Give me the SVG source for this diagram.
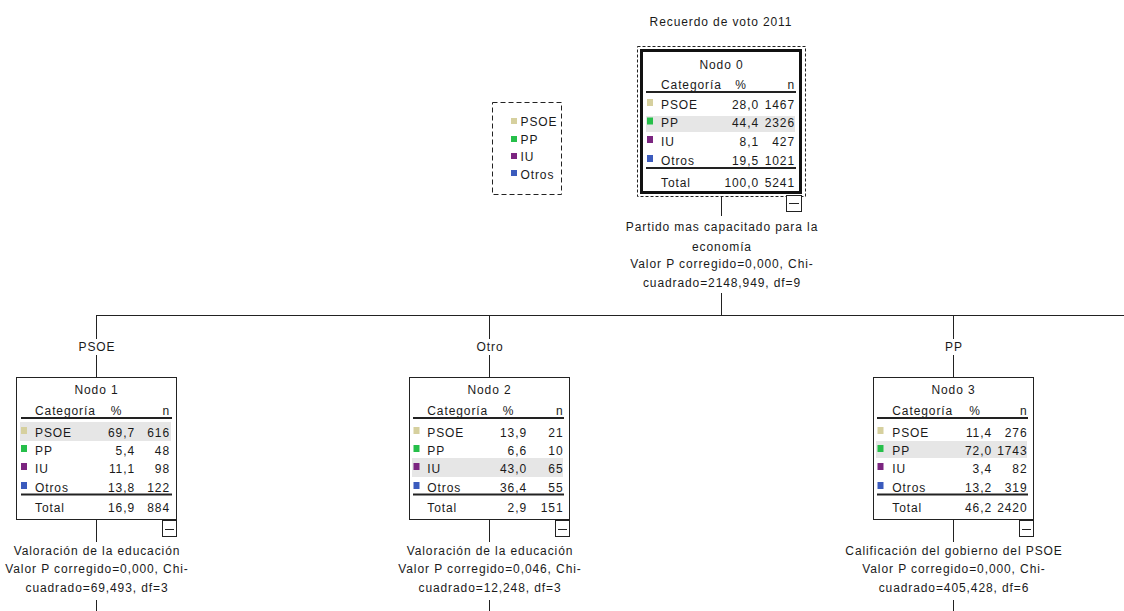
<svg xmlns="http://www.w3.org/2000/svg" width="1124" height="611" viewBox="0 0 1124 611">
<style>
.t{font-family:"Liberation Sans",Arial,sans-serif;font-size:12px;letter-spacing:0.9px;fill:#1a1a1a}
.m{text-anchor:middle}
.e{text-anchor:end}
.ln{stroke:#222;stroke-width:1;fill:none}
.rule{stroke:#222;stroke-width:2;fill:none}
.box{fill:#fff;stroke:#222;stroke-width:1}
.band{fill:#e6e6e6}
.c1{fill:#d6d09e}.c2{fill:#26bf4a}.c3{fill:#7b2580}.c4{fill:#3b5bbd}
.dash{fill:none;stroke:#222;stroke-width:1;stroke-dasharray:5 3}
</style>
<rect width="1124" height="611" fill="#fff"/>

<g id="connectors">
<line class="ln" x1="721.5" y1="196" x2="721.5" y2="216"/>
<line class="ln" x1="721.5" y1="293" x2="721.5" y2="316"/>
<line class="ln" x1="96" y1="315.5" x2="1124" y2="315.5"/>
<line class="ln" x1="96.5" y1="315" x2="96.5" y2="339"/>
<line class="ln" x1="96.5" y1="355" x2="96.5" y2="377"/>
<line class="ln" x1="489.5" y1="315" x2="489.5" y2="339"/>
<line class="ln" x1="489.5" y1="355" x2="489.5" y2="377"/>
<line class="ln" x1="953.5" y1="315" x2="953.5" y2="339"/>
<line class="ln" x1="953.5" y1="355" x2="953.5" y2="377"/>
<line class="ln" x1="96.5" y1="520" x2="96.5" y2="542"/>
<line class="ln" x1="96.5" y1="600" x2="96.5" y2="611"/>
<line class="ln" x1="489.5" y1="520" x2="489.5" y2="542"/>
<line class="ln" x1="489.5" y1="600" x2="489.5" y2="611"/>
<line class="ln" x1="953.5" y1="520" x2="953.5" y2="542"/>
<line class="ln" x1="953.5" y1="600" x2="953.5" y2="611"/>
<text class="t m" x="722" y="230.5">Partido mas capacitado para la</text>
<text class="t m" x="722" y="250.5">economía</text>
<text class="t m" x="722" y="267.5">Valor P corregido=0,000, Chi-</text>
<text class="t m" x="722" y="286.5">cuadrado=2148,949, df=9</text>
<text class="t m" x="97" y="351">PSOE</text>
<text class="t m" x="490" y="351">Otro</text>
<text class="t m" x="954" y="351">PP</text>
<text class="t m" x="97" y="554.5">Valoración de la educación</text>
<text class="t m" x="97" y="572.5">Valor P corregido=0,000, Chi-</text>
<text class="t m" x="97" y="591.5">cuadrado=69,493, df=3</text>
<text class="t m" x="490" y="554.5">Valoración de la educación</text>
<text class="t m" x="490" y="572.5">Valor P corregido=0,046, Chi-</text>
<text class="t m" x="490" y="591.5">cuadrado=12,248, df=3</text>
<text class="t m" x="954" y="554.5">Calificación del gobierno del PSOE</text>
<text class="t m" x="954" y="572.5">Valor P corregido=0,000, Chi-</text>
<text class="t m" x="954" y="591.5">cuadrado=405,428, df=6</text>
</g>

<g id="title">
<text class="t m" x="721" y="26">Recuerdo de voto 2011</text>
</g>

<g id="legend">
<rect class="dash" x="492.5" y="102.5" width="69" height="92"/>
<rect class="c1" x="511" y="118" width="6" height="6"/>
<text class="t" x="520.5" y="125.5">PSOE</text>
<rect class="c2" x="511" y="136" width="6" height="6"/>
<text class="t" x="520.5" y="143.5">PP</text>
<rect class="c3" x="511" y="153" width="6" height="6"/>
<text class="t" x="520.5" y="161">IU</text>
<rect class="c4" x="511" y="170" width="6" height="6"/>
<text class="t" x="520.5" y="178.5">Otros</text>
</g>

<g id="node0">
<rect fill="none" stroke="#222" stroke-width="1" stroke-dasharray="3 2" x="637.5" y="46.5" width="168" height="150"/>
<rect fill="#fff" stroke="#111" stroke-width="3" x="641.5" y="50.5" width="159" height="142"/>
<rect class="band" x="646" y="116" width="149" height="16"/>
<text class="t m" x="721.5" y="68.5">Nodo 0</text>
<text class="t" x="661" y="88.5">Categoría</text>
<text class="t m" x="741" y="88.5">%</text>
<text class="t e" x="795" y="88.5">n</text>
<line class="rule" x1="646" y1="92" x2="796" y2="92"/>
<rect class="c1" x="647" y="99" width="6" height="7"/>
<text class="t" x="661" y="108.5">PSOE</text>
<text class="t e" x="759" y="108.5">28,0</text>
<text class="t e" x="795" y="108.5">1467</text>
<rect class="c2" x="647" y="117.5" width="6" height="7"/>
<text class="t" x="661" y="127">PP</text>
<text class="t e" x="759" y="127">44,4</text>
<text class="t e" x="795" y="127">2326</text>
<rect class="c3" x="647" y="136" width="6" height="7"/>
<text class="t" x="661" y="145.5">IU</text>
<text class="t e" x="759" y="145.5">8,1</text>
<text class="t e" x="795" y="145.5">427</text>
<rect class="c4" x="647" y="155" width="6" height="7"/>
<text class="t" x="661" y="164.5">Otros</text>
<text class="t e" x="759" y="164.5">19,5</text>
<text class="t e" x="795" y="164.5">1021</text>
<line class="rule" x1="646" y1="168" x2="796" y2="168"/>
<text class="t" x="661" y="187">Total</text>
<text class="t e" x="759" y="187">100,0</text>
<text class="t e" x="795" y="187">5241</text>
<rect class="box" x="786.5" y="195.5" width="15" height="16"/>
<line class="ln" x1="789" y1="203.5" x2="799" y2="203.5"/>
</g>

<g id="node1">
<rect class="box" x="16.5" y="377.5" width="160" height="142"/>
<rect class="band" x="20" y="422" width="151" height="19"/>
<text class="t m" x="96.5" y="393.5">Nodo 1</text>
<text class="t" x="35" y="414.5">Categoría</text>
<text class="t m" x="116.5" y="414.5">%</text>
<text class="t e" x="170" y="414.5">n</text>
<line class="rule" x1="21" y1="418" x2="172" y2="418"/>
<rect class="c1" x="21" y="427" width="6" height="7"/>
<text class="t" x="35" y="436.5">PSOE</text>
<text class="t e" x="135" y="436.5">69,7</text>
<text class="t e" x="170" y="436.5">616</text>
<rect class="c2" x="21" y="445" width="6" height="7"/>
<text class="t" x="35" y="454.5">PP</text>
<text class="t e" x="135" y="454.5">5,4</text>
<text class="t e" x="170" y="454.5">48</text>
<rect class="c3" x="21" y="463" width="6" height="7"/>
<text class="t" x="35" y="472.5">IU</text>
<text class="t e" x="135" y="472.5">11,1</text>
<text class="t e" x="170" y="472.5">98</text>
<rect class="c4" x="21" y="482" width="6" height="7"/>
<text class="t" x="35" y="491.5">Otros</text>
<text class="t e" x="135" y="491.5">13,8</text>
<text class="t e" x="170" y="491.5">122</text>
<line class="rule" x1="21" y1="494.5" x2="172" y2="494.5"/>
<text class="t" x="35" y="511.5">Total</text>
<text class="t e" x="135" y="511.5">16,9</text>
<text class="t e" x="170" y="511.5">884</text>
<rect class="box" x="162.5" y="520.5" width="14" height="16"/>
<line class="ln" x1="165" y1="529.5" x2="174" y2="529.5"/>
</g>

<g id="node2">
<rect class="box" x="409.5" y="377.5" width="160" height="142"/>
<rect class="band" x="412" y="458" width="151" height="19"/>
<text class="t m" x="489.5" y="393.5">Nodo 2</text>
<text class="t" x="427.3" y="414.5">Categoría</text>
<text class="t m" x="508.5" y="414.5">%</text>
<text class="t e" x="563.5" y="414.5">n</text>
<line class="rule" x1="413" y1="418" x2="564" y2="418"/>
<rect class="c1" x="413.5" y="427" width="6" height="7"/>
<text class="t" x="427.3" y="436.5">PSOE</text>
<text class="t e" x="527" y="436.5">13,9</text>
<text class="t e" x="563.5" y="436.5">21</text>
<rect class="c2" x="413.5" y="445" width="6" height="7"/>
<text class="t" x="427.3" y="454.5">PP</text>
<text class="t e" x="527" y="454.5">6,6</text>
<text class="t e" x="563.5" y="454.5">10</text>
<rect class="c3" x="413.5" y="463" width="6" height="7"/>
<text class="t" x="427.3" y="472.5">IU</text>
<text class="t e" x="527" y="472.5">43,0</text>
<text class="t e" x="563.5" y="472.5">65</text>
<rect class="c4" x="413.5" y="482" width="6" height="7"/>
<text class="t" x="427.3" y="491.5">Otros</text>
<text class="t e" x="527" y="491.5">36,4</text>
<text class="t e" x="563.5" y="491.5">55</text>
<line class="rule" x1="413" y1="494.5" x2="564" y2="494.5"/>
<text class="t" x="427.3" y="511.5">Total</text>
<text class="t e" x="527" y="511.5">2,9</text>
<text class="t e" x="563.5" y="511.5">151</text>
<rect class="box" x="555.5" y="520.5" width="14" height="16"/>
<line class="ln" x1="558" y1="529.5" x2="567" y2="529.5"/>
</g>

<g id="node3">
<rect class="box" x="873.5" y="377.5" width="160" height="142"/>
<rect class="band" x="876" y="441" width="151" height="17"/>
<text class="t m" x="953.5" y="393.5">Nodo 3</text>
<text class="t" x="892.3" y="414.5">Categoría</text>
<text class="t m" x="975" y="414.5">%</text>
<text class="t e" x="1027.5" y="414.5">n</text>
<line class="rule" x1="877" y1="418" x2="1028" y2="418"/>
<rect class="c1" x="877.5" y="427" width="6" height="7"/>
<text class="t" x="892.3" y="436.5">PSOE</text>
<text class="t e" x="992" y="436.5">11,4</text>
<text class="t e" x="1027.5" y="436.5">276</text>
<rect class="c2" x="877.5" y="445" width="6" height="7"/>
<text class="t" x="892.3" y="454.5">PP</text>
<text class="t e" x="992" y="454.5">72,0</text>
<text class="t e" x="1027.5" y="454.5">1743</text>
<rect class="c3" x="877.5" y="463" width="6" height="7"/>
<text class="t" x="892.3" y="472.5">IU</text>
<text class="t e" x="992" y="472.5">3,4</text>
<text class="t e" x="1027.5" y="472.5">82</text>
<rect class="c4" x="877.5" y="482" width="6" height="7"/>
<text class="t" x="892.3" y="491.5">Otros</text>
<text class="t e" x="992" y="491.5">13,2</text>
<text class="t e" x="1027.5" y="491.5">319</text>
<line class="rule" x1="877" y1="494.5" x2="1028" y2="494.5"/>
<text class="t" x="892.3" y="511.5">Total</text>
<text class="t e" x="992" y="511.5">46,2</text>
<text class="t e" x="1027.5" y="511.5">2420</text>
<rect class="box" x="1019.5" y="520.5" width="14" height="16"/>
<line class="ln" x1="1022" y1="529.5" x2="1031" y2="529.5"/>
</g>
</svg>
